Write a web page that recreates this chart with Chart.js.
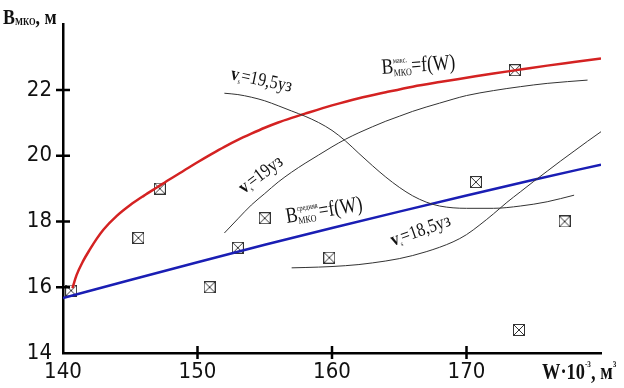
<!DOCTYPE html>
<html>
<head>
<meta charset="utf-8">
<script src="https://cdn.jsdelivr.net/npm/chart.js@4.4.1/dist/chart.umd.min.js"></script>
<style>
  body { margin: 0; background: #fff; }
  canvas { display: block; }
</style>
</head>
<body>
<canvas id="chart" width="624" height="388"></canvas>
<script>
// B max = f(W), red
const maxW = [140.7, 141, 141.5, 142, 142.5, 143, 144, 145, 146, 147, 148, 149, 150, 151, 152, 153, 154, 155, 156, 157, 158, 160, 162, 164, 166, 168, 170, 172, 174, 176, 178, 180];
const maxB = [15.97, 16.36, 16.8, 17.15, 17.47, 17.75, 18.17, 18.5, 18.78, 19.04, 19.3, 19.55, 19.8, 20.04, 20.27, 20.48, 20.67, 20.85, 21.01, 21.15, 21.28, 21.53, 21.75, 21.93, 22.1, 22.24, 22.37, 22.5, 22.62, 22.74, 22.85, 22.96];

// B average = f(W), blue
const avgW = [140, 145, 150, 155, 160, 165, 170, 175, 180];
const avgB = [15.67, 16.22, 16.76, 17.29, 17.8, 18.3, 18.79, 19.27, 19.73];

// v = 19,5 knots
const v195W = [152, 153, 154, 155, 156, 157, 158, 159, 160, 161, 162, 163, 164, 165, 166, 167, 168, 170, 172, 174, 176, 178];
const v195B = [21.9, 21.86, 21.78, 21.67, 21.52, 21.36, 21.2, 21.01, 20.77, 20.45, 20.07, 19.7, 19.35, 19.04, 18.78, 18.59, 18.47, 18.4, 18.4, 18.47, 18.6, 18.8];

// v = 19 knots
const v19W = [152, 153, 154, 155, 156, 157, 158, 159, 160, 161, 162, 163, 164, 165, 166, 167, 168, 169, 170, 172, 174, 176, 179];
const v19B = [17.65, 18.08, 18.5, 18.85, 19.2, 19.5, 19.77, 20.02, 20.27, 20.5, 20.7, 20.88, 21.05, 21.2, 21.35, 21.48, 21.6, 21.72, 21.83, 21.98, 22.1, 22.2, 22.3];

// v = 18,5 knots
const v185W = [157, 158, 160, 162, 163, 165, 167, 169, 170, 171, 172, 173, 174, 175, 176, 177, 178, 179, 180];
const v185B = [16.59, 16.6, 16.63, 16.69, 16.74, 16.87, 17.08, 17.38, 17.6, 17.9, 18.23, 18.58, 18.9, 19.22, 19.53, 19.84, 20.14, 20.44, 20.73];

// measured points
const obsW = [140.6, 145.6, 147.2, 150.9, 153.0, 155.0, 159.8, 170.7, 173.6, 173.9, 177.3];
const obsB = [15.9, 17.5, 19.0, 16.0, 17.2, 18.1, 16.9, 19.2, 22.6, 14.7, 18.0];

const xTicks = [140, 150, 160, 170, 180];
const yTicks = [14, 16, 18, 20, 22, 24];

const pts = (xs, ys) => xs.map((x, i) => ({ x: x, y: ys[i] }));

function boxMarker() {
    const c = document.createElement('canvas');
    c.width = 12; c.height = 12;
    const g = c.getContext('2d');
    g.strokeStyle = '#333';
    g.lineWidth = 1;
    g.strokeRect(0.5, 0.5, 11, 11);
    g.beginPath();
    g.moveTo(1, 1); g.lineTo(11, 11);
    g.moveTo(11, 1); g.lineTo(1, 11);
    g.stroke();
    return c;
}

const serif = "'Liberation Serif', 'Times New Roman', serif";

// draws a run of text pieces; pieces with "stack" share x with the next one
function drawRich(ctx, x, y, angle, parts, sx) {
    ctx.save();
    ctx.translate(x, y);
    ctx.rotate(angle * Math.PI / 180);
    ctx.scale(sx || 1, 1);
    ctx.fillStyle = '#111';
    ctx.textBaseline = 'alphabetic';
    let cx = 0;
    let stackW = 0;
    parts.forEach(p => {
        ctx.font = (p.bold ? 'bold ' : '') + p.size + 'px ' + serif;
        ctx.fillText(p.t, cx, p.dy || 0);
        const w = ctx.measureText(p.t).width;
        if (p.stack) {
            stackW = w;
        } else {
            cx += Math.max(w, stackW);
            stackW = 0;
        }
    });
    ctx.restore();
}

const decor = {
    id: 'decor',
    afterDraw(chart) {
        const ctx = chart.ctx;
        const xs = chart.scales.x, ys = chart.scales.y;
        const x0 = xs.getPixelForValue(140), y0 = ys.getPixelForValue(14);
        ctx.save();
        ctx.strokeStyle = '#000';
        ctx.lineWidth = 2.5;
        ctx.beginPath();
        [150, 160, 170].forEach(v => {
            const px = xs.getPixelForValue(v);
            ctx.moveTo(px, y0 - 7); ctx.lineTo(px, y0 + 6);
        });
        [16, 18, 20, 22].forEach(v => {
            const py = ys.getPixelForValue(v);
            ctx.moveTo(x0 - 7, py); ctx.lineTo(x0 + 7, py);
        });
        ctx.stroke();
        ctx.restore();

        // axis titles
        drawRich(ctx, 3, 24, 0, [
            { t: 'B', size: 21, bold: true },
            { t: 'МКО', size: 10, bold: true, dy: 1 },
            { t: ', м', size: 21, bold: true }
        ], 0.85);
        drawRich(ctx, 542, 379, 0, [
            { t: 'W', size: 23, bold: true },
            { t: '·', size: 23, bold: true },
            { t: '10', size: 23, bold: true },
            { t: '-3', size: 9, bold: true, dy: -12 },
            { t: ', м', size: 23, bold: true },
            { t: '3', size: 9, bold: true, dy: -12 }
        ], 0.8);

        // curve labels
        drawRich(ctx, 382, 74, -4, [
            { t: 'B', size: 22 },
            { t: 'макс.', size: 8, dy: -10, stack: true },
            { t: 'МКО', size: 10, dy: 3 },
            { t: '=f(W)', size: 22 }
        ], 0.8);
        drawRich(ctx, 287, 223, -9.5, [
            { t: 'B', size: 22 },
            { t: 'средняя', size: 8, dy: -10, stack: true },
            { t: 'МКО', size: 10, dy: 3 },
            { t: '=f(W)', size: 22 }
        ], 0.8);
        const vLabel = (x, y, a, txt) => drawRich(ctx, x, y, a, [
            { t: 'v', size: 19, bold: true },
            { t: 's', size: 7, dy: 3 },
            { t: txt, size: 19 }
        ], 0.85);
        vLabel(230, 79, 12, '=19,5уз');
        vLabel(244, 194, -37, '=19уз');
        vLabel(393, 246, -19.5, '=18,5уз');
    }
};

const thin = { borderColor: '#333', borderWidth: 1, pointRadius: 0, cubicInterpolationMode: 'monotone', fill: false };

new Chart(document.getElementById('chart'), {
    type: 'line',
    data: {
        datasets: [
            { label: 'v19.5', data: pts(v195W, v195B), ...thin },
            { label: 'v19', data: pts(v19W, v19B), ...thin },
            { label: 'v18.5', data: pts(v185W, v185B), ...thin },
            { label: 'Bavg', data: pts(avgW, avgB), borderColor: '#1a1eb4', borderWidth: 2.5, pointRadius: 0, cubicInterpolationMode: 'monotone' },
            { label: 'Bmax', data: pts(maxW, maxB), borderColor: '#d42222', borderWidth: 2.5, pointRadius: 0, cubicInterpolationMode: 'monotone' },
            { label: 'obs', data: pts(obsW, obsB), showLine: false, pointStyle: boxMarker(), pointRadius: 6 }
        ]
    },
    options: {
        responsive: false,
        animation: false,
        devicePixelRatio: 1,
        layout: { padding: { top: 17, right: 23, left: 0, bottom: 0 } },
        plugins: { legend: { display: false }, tooltip: { enabled: false } },
        scales: {
            x: {
                type: 'linear',
                min: 140, max: 180,
                afterBuildTicks: s => { s.ticks = xTicks.map(v => ({ value: v })); },
                afterFit: s => { s.height = 35; },
                grid: { display: false, drawTicks: false },
                border: { display: true, color: '#000', width: 2.5 },
                ticks: {
                    padding: 6,
                    color: '#111',
                    font: { size: 22, family: "'Liberation Sans Narrow', 'DejaVu Sans Condensed', sans-serif" },
                    callback: v => v === 180 ? '' : v
                }
            },
            y: {
                min: 14, max: 24,
                afterBuildTicks: s => { s.ticks = yTicks.map(v => ({ value: v })); },
                afterFit: s => { s.width = 63; },
                grid: { display: false, drawTicks: false },
                border: { display: true, color: '#000', width: 2.5 },
                ticks: {
                    padding: 11,
                    color: '#111',
                    font: { size: 22, family: "'Liberation Sans Narrow', 'DejaVu Sans Condensed', sans-serif" },
                    callback: v => v === 24 ? '' : v
                }
            }
        }
    },
    plugins: [decor]
});
</script>
</body>
</html>
